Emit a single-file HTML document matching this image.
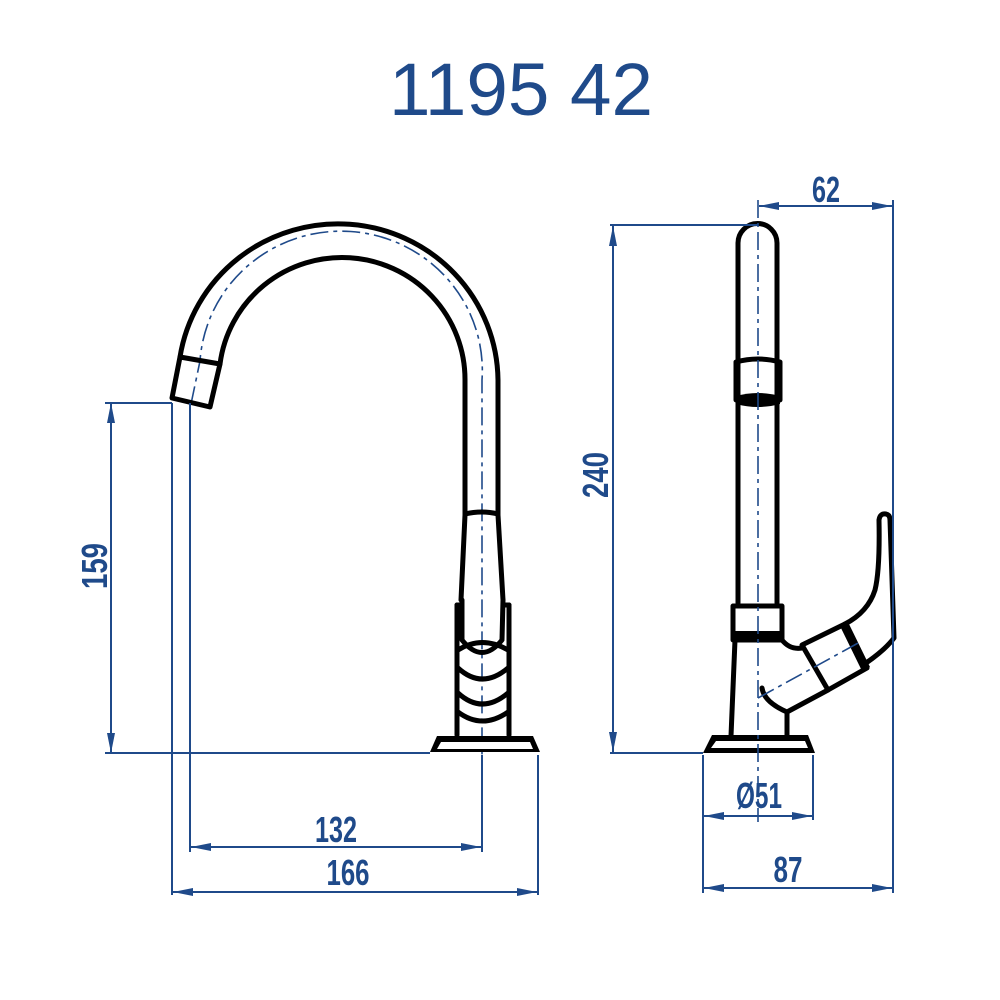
<!DOCTYPE html>
<html><head><meta charset="utf-8"><style>
html,body{margin:0;padding:0;background:#fff;}
svg{display:block}
.b{fill:none;stroke:#000;stroke-width:5;stroke-linejoin:round;stroke-linecap:round}
.d{fill:none;stroke:#1f4a8a;stroke-width:2}
.c{fill:none;stroke:#1f4a8a;stroke-width:1.6;stroke-dasharray:18 5 4 5}
.t{font-family:"Liberation Sans Narrow","Liberation Sans",sans-serif;font-weight:bold;font-size:36px;fill:#1f4a8a}
</style></head><body>
<svg width="1000" height="1000" viewBox="0 0 1000 1000">
<defs>
<marker id="a" viewBox="0 0 20 8" refX="20" refY="4" markerWidth="20" markerHeight="8" orient="auto-start-reverse" markerUnits="userSpaceOnUse"><path d="M0,0 L20,4 L0,8 z" fill="#1f4a8a"/></marker>
</defs>
<text x="521" y="115" text-anchor="middle" font-family="Liberation Sans, sans-serif" font-size="74" fill="#1f4a8a" textLength="264" lengthAdjust="spacingAndGlyphs">1195 42</text>

<!-- LEFT VIEW -->
<path class="c" d="M191,404 L200,361 A141 139 0 0 1 482,380 L482,850"/>
<path class="b" d="M180,357 A160 158 0 0 1 498,380 L498,515 L503,600"/>
<path class="b" d="M220,364 A123 122 0 0 1 465,380 L465,515 L461,600"/>
<path class="b" d="M180,357 L220,364 L210,407 L172,398 Z"/>
<path class="b" d="M465,514 Q482,510 498,514"/>
<path class="b" d="M462,600 L462,640 Q482,665 502,640 L503,600"/>
<path class="b" d="M457,605 L457,735 M509,605 L509,735"/>
<path class="b" d="M457,605 L462,605 M503,605 L509,605"/>
<path class="b" d="M458,650 Q482,635 508,650"/>
<path class="b" d="M458,668 Q482,690 508,668"/>
<path class="b" d="M458,693 Q482,715 508,693"/>
<path class="b" d="M458,712 Q482,730 508,712"/>
<path d="M437,736 L533,736 L540,752 L430,752 Z" fill="#000"/>
<path d="M441,742 L530,742 L533,749 L437,749 Z" fill="#fff"/>

<!-- left dims -->
<path class="d" d="M105,403 L172,403 M105,753 L430,753"/>
<path class="d" d="M111,403 L111,753" marker-start="url(#a)" marker-end="url(#a)"/>
<text class="t" transform="translate(107,566) rotate(-90)" text-anchor="middle" textLength="46" lengthAdjust="spacingAndGlyphs">159</text>
<path class="d" d="M172,403 L172,895 M190,403 L190,852 M482,755 L482,852 M538,755 L538,895"/>
<path class="d" d="M191,847 L481,847" marker-start="url(#a)" marker-end="url(#a)"/>
<path class="d" d="M173,892 L537,892" marker-start="url(#a)" marker-end="url(#a)"/>
<text class="t" x="336" y="842" text-anchor="middle" textLength="42" lengthAdjust="spacingAndGlyphs">132</text>
<text class="t" x="348" y="885" text-anchor="middle" textLength="43" lengthAdjust="spacingAndGlyphs">166</text>

<!-- RIGHT VIEW -->
<path class="b" d="M738,603 L738,243 A19.5 19.5 0 0 1 777,243 L777,603"/>
<path class="b" d="M736,362 Q758,356 780,362 L780,400 L736,400 Z"/>
<path d="M736,396 Q758,390 780,396 L780,404 Q758,410 736,404 Z" fill="#000"/>
<path class="b" d="M733,606 L782,606 L782,640 L733,640 Z"/>
<rect x="733" y="631" width="49" height="9" fill="#000"/>
<path class="b" d="M735,640 L731,736"/>
<path class="b" d="M782,640 Q790,650 802,648"/>
<path class="b" d="M787,712 L787,736"/>
<path class="b" d="M762,688 Q764,702 787,712 L828,690"/>
<path class="b" d="M802,645 L845,624 L867,668 L828,690 Z"/>
<path d="M840,626 L848,622 L870,667 L862,671 Z" fill="#000"/>
<path class="b" d="M845,624 Q868,612 875,590 Q880,570 879,520 Q880,513 886,514 Q890,515 890,520 L894,638 Q885,650 866,663"/>
<path d="M712,735 L808,735 L815,753 L703,753 Z" fill="#000"/>
<path d="M716,741 L805,741 L808,748 L711,748 Z" fill="#fff"/>
<path class="c" d="M758,200 L758,822"/>
<path class="c" d="M758,698 L860,642"/>

<!-- right dims -->
<path class="d" d="M610,225 L758,225 M610,753 L703,753"/>
<path class="d" d="M613,226 L613,752" marker-start="url(#a)" marker-end="url(#a)"/>
<text class="t" transform="translate(608,475) rotate(-90)" text-anchor="middle" textLength="46" lengthAdjust="spacingAndGlyphs">240</text>
<path class="d" d="M893,200 L893,893"/>
<path class="d" d="M759,206 L892,206" marker-start="url(#a)" marker-end="url(#a)"/>
<text class="t" x="826" y="202" text-anchor="middle" textLength="28" lengthAdjust="spacingAndGlyphs">62</text>
<path class="d" d="M703,755 L703,893 M813,755 L813,820"/>
<path class="d" d="M704,816 L812,816" marker-start="url(#a)" marker-end="url(#a)"/>
<text class="t" x="759" y="808" text-anchor="middle" textLength="46" lengthAdjust="spacingAndGlyphs">Ø51</text>
<path class="d" d="M704,888 L892,888" marker-start="url(#a)" marker-end="url(#a)"/>
<text class="t" x="788" y="882" text-anchor="middle" textLength="29" lengthAdjust="spacingAndGlyphs">87</text>
</svg>
</body></html>
